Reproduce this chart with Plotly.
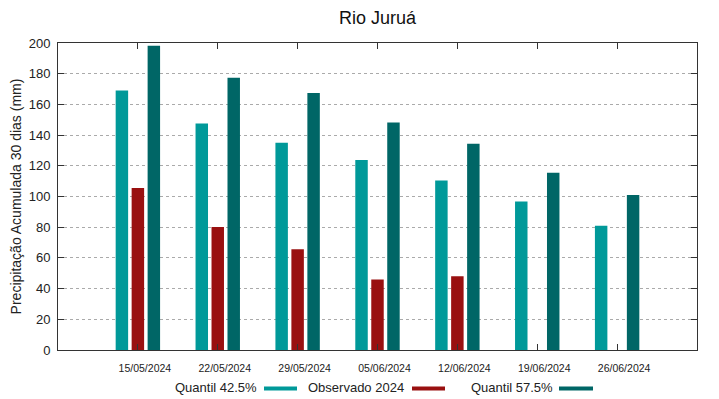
import plotly.graph_objects as go

dates = ["15/05/2024", "22/05/2024", "29/05/2024", "05/06/2024",
         "12/06/2024", "19/06/2024", "26/06/2024"]
q425 = [169, 147.5, 135, 123.8, 110.4, 96.7, 81]
obs2024 = [105.6, 80.2, 65.6, 46, 48, None, None]
q575 = [198.2, 177.3, 167.5, 148.2, 134.3, 115.4, 100.9]

series_names = ["Quantil 42.5%", "Observado 2024", "Quantil 57.5%"]
colors = ["#009999", "#991010", "#006666"]
yticks = list(range(0, 201, 20))

# page has an 8px body margin; figure coordinates are page coords minus 8
OFF = 8
W, H = 703, 391
L, T = 58 - OFF, 43 - OFF
R = W - (697 - OFF)
B = H - (350 - OFF)
pw, ph = W - L - R, H - T - B

xs = list(range(1, len(dates) + 1))

fig = go.Figure()
for name, vals, col in zip(series_names, [q425, obs2024, q575], colors):
    fig.add_trace(go.Bar(x=xs, y=vals, name=name, marker_color=col,
                         marker_line_width=0, showlegend=False))

def px2paper(x, y):
    return (x - OFF - L) / pw, (H - B - (y - OFF)) / ph

# legend (text left of swatch, gnuplot style), page pixel positions
legend_items = [(257, 264, 297), (404, 412, 445), (553, 559, 593)]
annotations = []
shapes = []
for (txt_end, s0, s1), name, col in zip(legend_items, series_names, colors):
    ax, ay = px2paper(txt_end, 387.5)
    annotations.append(dict(x=ax, y=ay, xref="paper", yref="paper", text=name,
                            showarrow=False, xanchor="right", yanchor="middle",
                            xshift=2, font=dict(size=13, color="#222")))
    x0, y0 = px2paper(s0, 390.5)
    x1, y1 = px2paper(s1, 386.5)
    shapes.append(dict(type="rect", xref="paper", yref="paper", x0=x0, x1=x1,
                       y0=y0, y1=y1, fillcolor=col, line_width=0))

fig.update_layout(
    width=W, height=H,
    margin=dict(l=L, r=R, t=T, b=B, autoexpand=False),
    paper_bgcolor="white", plot_bgcolor="white",
    font=dict(family="Liberation Sans, Arial, sans-serif", color="#222"),
    title=dict(text="Rio Juruá", x=(L + pw / 2) / W, xanchor="center",
               y=1 - (17.5 - OFF) / H, yanchor="middle",
               font=dict(size=18, color="#111"), automargin=False),
    barmode="group", bargap=0.4, bargroupgap=0.22,
    annotations=annotations, shapes=shapes,
    xaxis=dict(range=[0, 8], tickmode="array", tickvals=xs, ticktext=dates,
               ticks="inside", ticklen=6, tickcolor="#333", automargin=False,
               showline=True, linecolor="#333", linewidth=1, mirror="allticks",
               showgrid=False, zeroline=False, ticklabelshift=7,
               tickfont=dict(size=10.5, color="#222"), ticklabelstandoff=8),
    yaxis=dict(range=[0, 200], tickmode="array", tickvals=yticks,
               ticks="inside", ticklen=6, tickcolor="#333", automargin=False,
               showline=True, linecolor="#333", linewidth=1, mirror="allticks",
               showgrid=True, gridcolor="#aaaaaa", griddash="dot", gridwidth=1,
               zeroline=False, tickfont=dict(size=13, color="#222"),
               ticklabelstandoff=4,
               title=dict(text="Precipitação Acumulada 30 dias (mm)",
                          font=dict(size=14, color="#222"), standoff=3)),
)

fig.write_html("out.html")
